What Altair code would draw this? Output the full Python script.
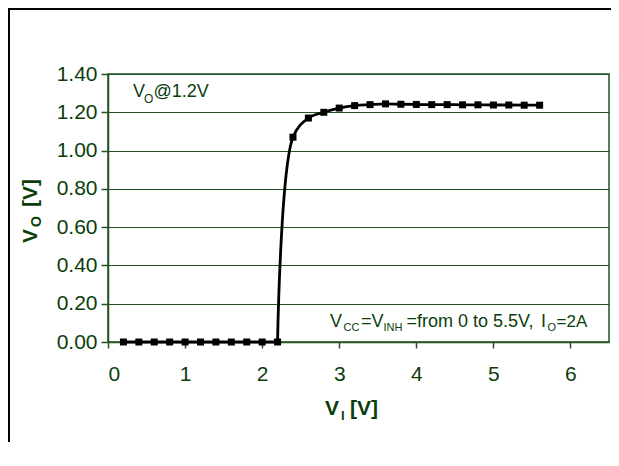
import altair as alt
import pandas as pd

# ---- data ----
vi = [0.2, 0.4, 0.6, 0.8, 1.0, 1.2, 1.4, 1.6, 1.8, 2.0, 2.2,
      2.4, 2.6, 2.8, 3.0, 3.2, 3.4, 3.6, 3.8, 4.0, 4.2, 4.4,
      4.6, 4.8, 5.0, 5.2, 5.4, 5.6]
vo = [0.0, 0.0, 0.0, 0.0, 0.0, 0.0, 0.0, 0.0, 0.0, 0.0, 0.0,
      1.07, 1.17, 1.20, 1.222, 1.235, 1.240, 1.244, 1.242, 1.241, 1.240, 1.240,
      1.239, 1.239, 1.238, 1.238, 1.237, 1.237]
x_ticks = [0, 1, 2, 3, 4, 5, 6]
y_ticks = [0.0, 0.2, 0.4, 0.6, 0.8, 1.0, 1.2, 1.4]

df = pd.DataFrame({"vi": vi, "vo": vo})
one = pd.DataFrame({"k": [0]})

W, H = 501, 268
TXT = "#0b3d0b"
GRID = "#245224"
FONT = "Liberation Sans"
SWITCH = 2.2  # where the flat part ends and the rise begins

xs = alt.Scale(domain=[0, 6.5], nice=False, zero=False)
ys = alt.Scale(domain=[0, 1.4], nice=False, zero=False)
xax = alt.Axis(values=x_ticks, title=None, grid=False, format="d",
               tickSize=6, labelPadding=15, labelFontSize=21, labelOverlap=False)
yax = alt.Axis(values=y_ticks, title=None, grid=True, format=".2f",
               tickSize=7, labelPadding=4, labelFontSize=21, labelOverlap=False)


def enc():
    return dict(x=alt.X("vi:Q", scale=xs, axis=xax), y=alt.Y("vo:Q", scale=ys, axis=yax))


base = alt.Chart(df)
flat = base.transform_filter(alt.datum.vi <= SWITCH).mark_line(
    color="black", strokeWidth=2.8).encode(**enc())
rise = base.transform_filter(alt.datum.vi >= SWITCH).mark_line(
    color="black", strokeWidth=2.8, interpolate="catmull-rom").encode(**enc())
pts = base.mark_square(color="black", size=49, opacity=1).encode(**enc())


def txt(s, x, y, size, bold=False, angle=0):
    kw = dict(text=s, align="left", baseline="alphabetic", fontSize=size,
              font=FONT, color=TXT, fontWeight="bold" if bold else "normal")
    if angle:
        kw["angle"] = angle
    return alt.Chart(one).mark_text(**kw).encode(x=alt.value(x), y=alt.value(y))


# page -> plot-relative: x-108, y-74
texts = [
    # V_O@1.2V
    txt("V", 25, 23.3, 18), txt("O", 36, 29, 12), txt("@1.2V", 45.5, 23.3, 18),
    # V_CC =V_INH=from 0 to 5.5V, I_O=2A
    txt("V", 222, 253.3, 18), txt("CC", 235.5, 257, 11), txt("=V", 253, 253.3, 18),
    txt("INH", 275.5, 257, 11), txt("=from 0 to 5.5V,", 298.5, 253.3, 18),
    txt("I", 433, 253.3, 18), txt("O", 439.5, 257, 11), txt("=2A", 448.5, 253.3, 17),
    # x title V_I [V]
    txt("V", 217, 341, 21, True), txt("I", 233, 346, 13, True), txt("[V]", 242, 341, 21, True),
    # y title V_O [V] (rotated)
    txt("V", -71, 169, 21, True, 270), txt("O", -67, 153, 14, True, 270),
    txt("[V]", -71, 133, 21, True, 270),
]

frame_left = alt.Chart(one).mark_rule(color="black", strokeWidth=2).encode(
    x=alt.value(-99), y=alt.value(-66), y2=alt.value(H + 100))
frame_top = alt.Chart(one).mark_rule(color="black", strokeWidth=2).encode(
    x=alt.value(-100), x2=alt.value(W + 2), y=alt.value(-65))

chart = alt.layer(flat, rise, pts, *texts, frame_left, frame_top).properties(
    width=W, height=H,
    autosize=alt.AutoSizeParams(type="none"),
    padding={"left": 100, "top": 66, "right": 2, "bottom": 100},
).configure_view(
    stroke=GRID, strokeWidth=1.5
).configure_axis(
    labelFont=FONT, labelColor=TXT, tickColor=GRID, domainColor=GRID,
    gridColor=GRID, gridWidth=1.2, domainWidth=1.5, tickWidth=1.5, gridOpacity=1,
    labelOverlap=False
)

chart.save("out.html", embed_options={"renderer": "svg", "actions": False})
